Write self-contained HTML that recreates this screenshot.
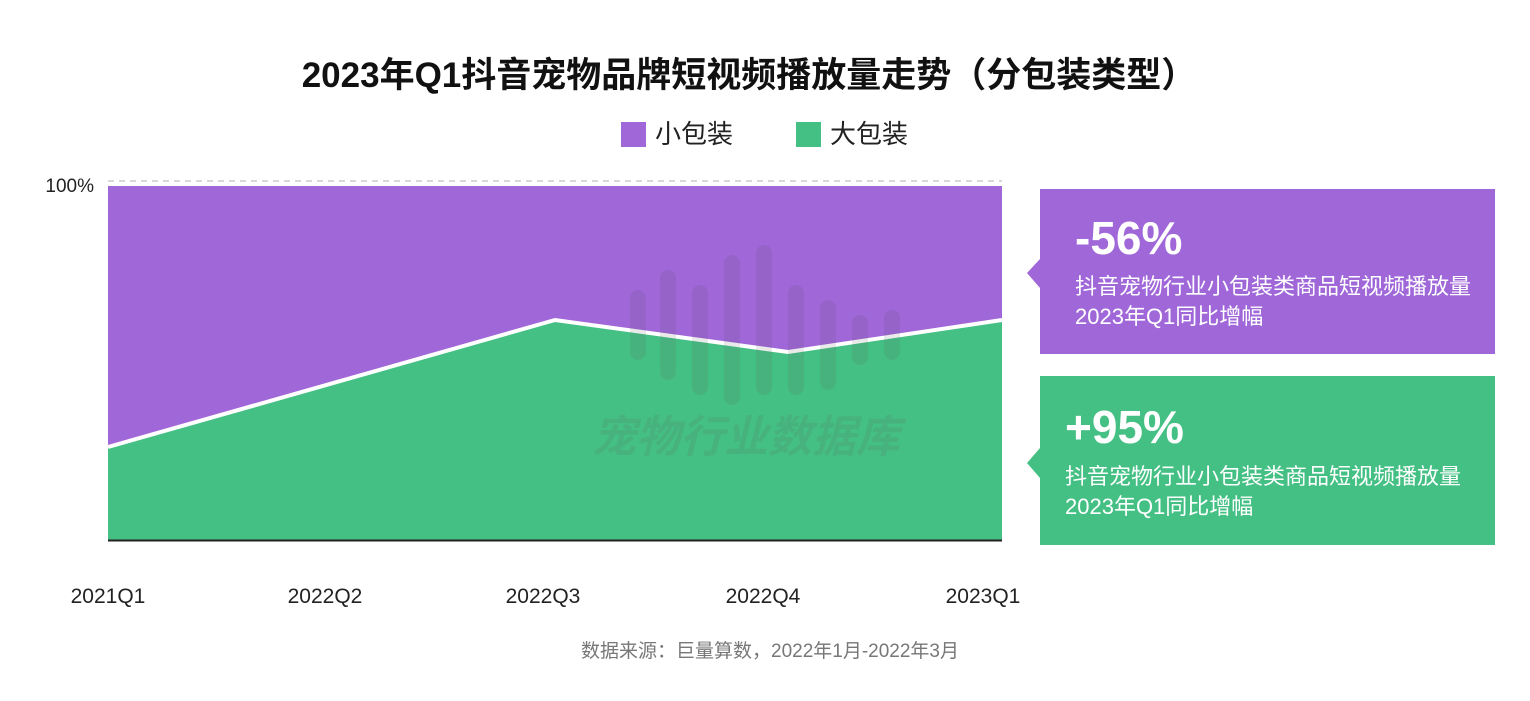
<!DOCTYPE html>
<html><head><meta charset="utf-8"><style>
body{margin:0;background:#fff;width:1530px;height:701px;overflow:hidden;font-family:"Liberation Sans","Noto Sans CJK SC",sans-serif;}
</style></head><body>
<svg width="1530" height="701" xmlns="http://www.w3.org/2000/svg" style="position:absolute;left:0;top:0">
<text x="749" y="87" text-anchor="middle" font-size="35" font-weight="bold" fill="#111" font-family="Liberation Sans,Noto Sans CJK SC,sans-serif">2023年Q1抖音宠物品牌短视频播放量走势（分包装类型）</text>
<rect x="621" y="122" width="25" height="25" fill="#A067D9"/>
<text x="655" y="143" font-size="26" fill="#222" font-family="Liberation Sans,Noto Sans CJK SC,sans-serif">小包装</text>
<rect x="796" y="122" width="25" height="25" fill="#45C084"/>
<text x="830" y="143" font-size="26" fill="#222" font-family="Liberation Sans,Noto Sans CJK SC,sans-serif">大包装</text>
<line x1="108" y1="181" x2="1002" y2="181" stroke="#ccc" stroke-width="1.5" stroke-dasharray="6,5"/>
<text x="94" y="192" text-anchor="end" font-size="19" fill="#222">100%</text>
<rect x="108" y="186" width="894" height="354" fill="#A067D9"/>
<polygon points="108,447 555,320 788,352 1002,320 1002,540 108,540" fill="#45C084"/>
<polyline points="108,447 555,320 788,352 1002,320" fill="none" stroke="#fff" stroke-width="4"/>
<g fill="#555" opacity="0.12">
<rect x="630" y="290" width="16" height="70" rx="8"/><rect x="660" y="270" width="16" height="110" rx="8"/>
<rect x="692" y="285" width="16" height="110" rx="8"/><rect x="724" y="255" width="16" height="150" rx="8"/>
<rect x="756" y="245" width="16" height="150" rx="8"/><rect x="788" y="285" width="16" height="110" rx="8"/>
<rect x="820" y="300" width="16" height="90" rx="8"/><rect x="852" y="315" width="16" height="50" rx="8"/>
<rect x="884" y="310" width="16" height="50" rx="8"/>
<text x="592" y="452" font-size="44" font-weight="bold" font-style="italic" fill="#555" font-family="Liberation Sans,Noto Sans CJK SC,sans-serif">宠物行业数据库</text>
</g>
<line x1="108" y1="540.5" x2="1002" y2="540.5" stroke="#222" stroke-width="2"/>
<g font-size="21" fill="#222" text-anchor="middle">
<text x="108" y="603">2021Q1</text><text x="325" y="603">2022Q2</text><text x="543" y="603">2022Q3</text><text x="763" y="603">2022Q4</text><text x="983" y="603">2023Q1</text>
</g>
<text x="770" y="657" text-anchor="middle" font-size="19" fill="#777" font-family="Liberation Sans,Noto Sans CJK SC,sans-serif">数据来源：巨量算数，2022年1月-2022年3月</text>
<polygon points="1040,189 1495,189 1495,354 1040,354 1040,288 1027,273 1040,259" fill="#A067D9"/>
<text x="1075" y="254" font-size="46" font-weight="bold" fill="#fff">-56%</text>
<g font-size="22" fill="#fff" font-family="Liberation Sans,Noto Sans CJK SC,sans-serif">
<text x="1075" y="294">抖音宠物行业小包装类商品短视频播放量</text>
<text x="1075" y="324">2023年Q1同比增幅</text>
</g>
<polygon points="1040,376 1495,376 1495,545 1040,545 1040,478 1027,463 1040,448" fill="#45C084"/>
<text x="1065" y="443" font-size="46" font-weight="bold" fill="#fff">+95%</text>
<g font-size="22" fill="#fff" font-family="Liberation Sans,Noto Sans CJK SC,sans-serif">
<text x="1065" y="484">抖音宠物行业小包装类商品短视频播放量</text>
<text x="1065" y="514">2023年Q1同比增幅</text>
</g>
</svg>
</body></html>
